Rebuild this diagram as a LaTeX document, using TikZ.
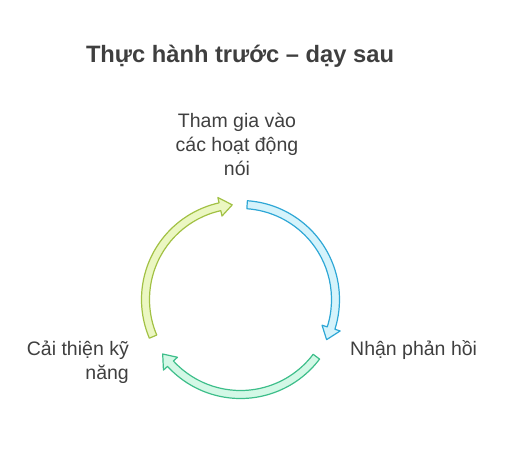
\documentclass[tikz,border=0pt]{standalone}
\usepackage{fontspec}
\setmainfont{Liberation Sans}
\usetikzlibrary{calc}
\begin{document}
\begin{tikzpicture}[x=1pt,y=1pt,
  lbl/.style={inner sep=0pt,text=txtgray,font=\fontsize{19.5}{24}\selectfont},
  arrowshape/.style={line width=1.2pt,line join=round}]
\definecolor{txtgray}{HTML}{3F3F3F}
\definecolor{bluestroke}{HTML}{2EA7D6}
\definecolor{bluefill}{HTML}{D5F3FB}
\definecolor{greenstroke}{HTML}{3DBE8A}
\definecolor{greenfill}{HTML}{D3F8E6}
\definecolor{yelstroke}{HTML}{A2C144}
\definecolor{yelfill}{HTML}{EBF7C2}
\useasboundingbox (0,0) rectangle (516,-448);
\coordinate (c) at (240.5,-299.5);
\def\rOut{99}\def\rIn{91}\def\rMid{95}\def\hAng{7.5}\def\hExt{5.5}
\newcommand\cyclearrow[4]{%
  \pgfmathsetmacro\hb{#2+\hAng}%
  \pgfmathsetmacro\rO{\rOut+\hExt}%
  \pgfmathsetmacro\rI{\rIn-\hExt}%
  \draw[arrowshape,draw=#3,fill=#4]
    ($(c)+(#1:\rOut)$) arc[start angle=#1,end angle=\hb,radius=\rOut]
    -- ($(c)+(\hb:\rO)$) -- ($(c)+(#2:\rMid)$) -- ($(c)+(\hb:\rI)$)
    -- ($(c)+(\hb:\rIn)$) arc[start angle=\hb,end angle=#1,radius=\rIn] -- cycle;}
\cyclearrow{86}{-25}{bluestroke}{bluefill}
\cyclearrow{-37}{-145}{greenstroke}{greenfill}
\cyclearrow{-157}{-265}{yelstroke}{yelfill}
\node[inner sep=0pt,text=txtgray,font=\fontsize{23.7}{28}\selectfont\bfseries,anchor=base] (title) at (240,-62) {Thực hành trước – dạy sau};
\node[lbl,align=center,anchor=base] (top) at (237,-175) {Tham gia vào\\các hoạt động\\nói};
\node[lbl,anchor=base west] (right) at (350,-355) {Nhận phản hồi};
\node[lbl,align=right,anchor=base east] (left) at (129,-379) {Cải thiện kỹ\\năng};
\end{tikzpicture}
\end{document}
